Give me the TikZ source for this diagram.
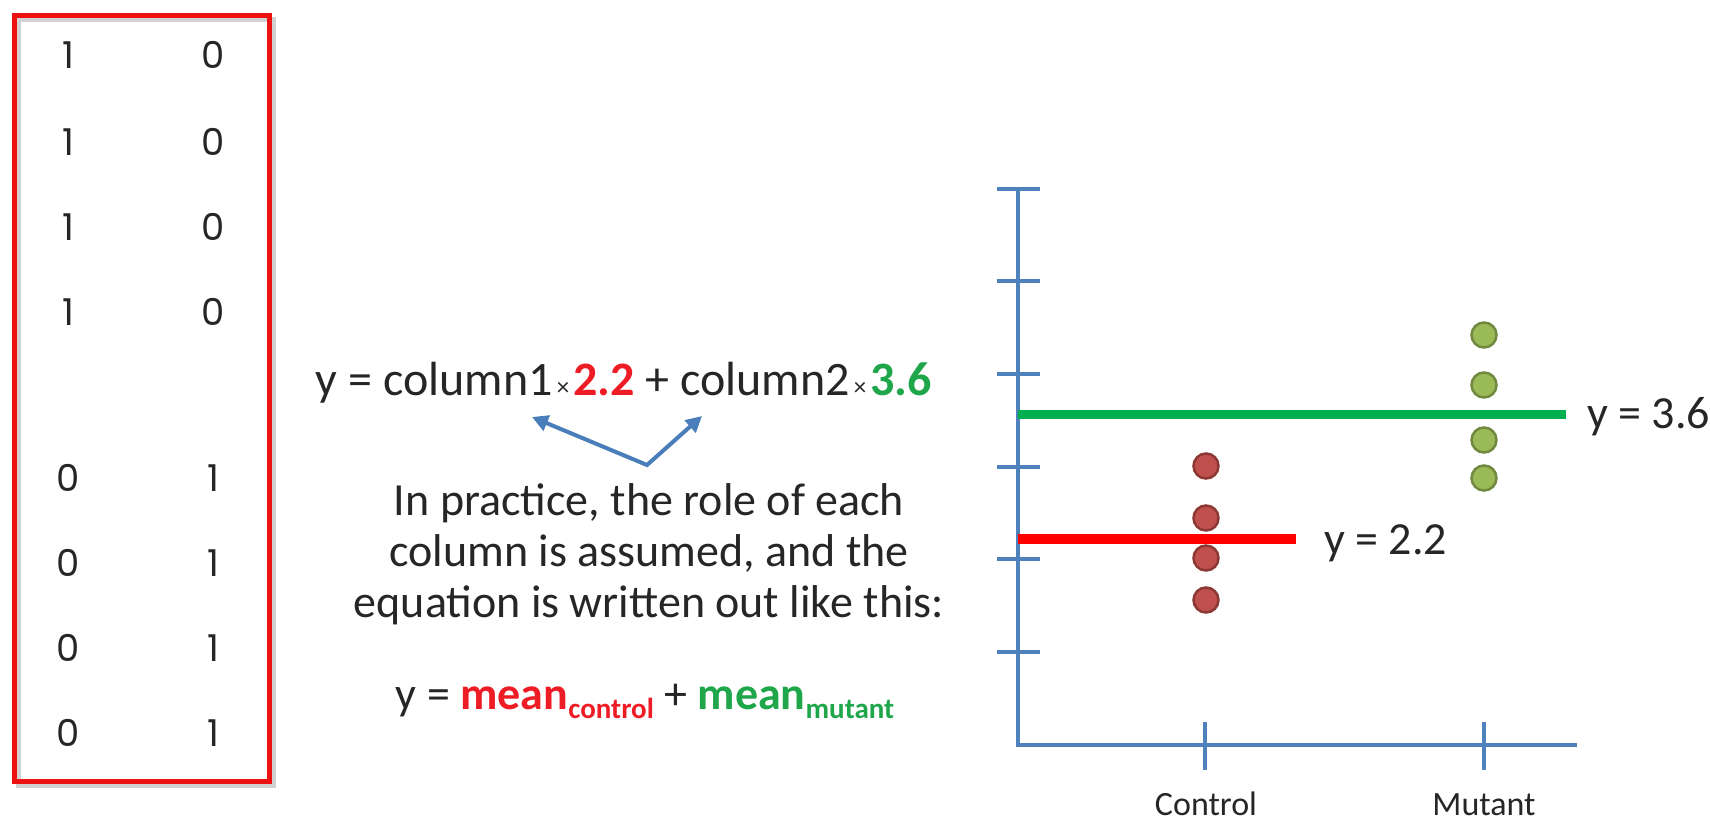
\documentclass[tikz,border=0pt]{standalone}
\usepackage{fontspec}
\setmainfont{Carlito}
\newfontfamily\digitfont{Poppins}
\usetikzlibrary{arrows.meta}

\definecolor{axisblue}{HTML}{4F81BD}
\definecolor{arrowblue}{HTML}{4A7EBB}
\definecolor{boxred}{HTML}{EE1111}
\definecolor{ctrlred}{HTML}{FF0000}
\definecolor{mutgreen}{HTML}{00B050}
\definecolor{txtred}{HTML}{EE1C25}
\definecolor{txtgreen}{HTML}{1FA64A}
\definecolor{dotred}{HTML}{C0504D}
\definecolor{dotredline}{HTML}{8C3836}
\definecolor{dotgreen}{HTML}{9BBB59}
\definecolor{dotgreenline}{HTML}{71893F}
\definecolor{ink}{HTML}{262626}

\newcommand{\timessign}{{\fontsize{25bp}{25bp}\selectfont\,×\,}}
\newcommand{\subtext}[1]{\raisebox{-9bp}{\fontsize{29bp}{30bp}\selectfont #1}}

\begin{document}
\begin{tikzpicture}[x=1bp,y=-1bp,
  cell/.style={font=\digitfont\fontsize{37bp}{40bp}\selectfont, text=ink, inner sep=0},
  body/.style={font=\fontsize{46bp}{51bp}\selectfont, text=ink, inner sep=0},
  axislabel/.style={font=\fontsize{34bp}{40bp}\selectfont, text=ink, inner sep=0, anchor=base},
  axisline/.style={draw=axisblue, line width=4bp},
  redpt/.style={fill=dotred, draw=dotredline, line width=2.5bp},
  greenpt/.style={fill=dotgreen, draw=dotgreenline, line width=2.5bp},
  pointer/.style={draw=arrowblue, line width=4bp, line join=miter,
    {Triangle[length=16bp,width=16bp]}-{Triangle[length=16bp,width=16bp]}}
]
\useasboundingbox[fill=white] (0,0) rectangle (1710,826);

% design matrix in a red frame
\draw[black!18, line width=5bp] (18,19) rectangle (273,785);
\draw[boxred, line width=5bp] (14,15) rectangle (269,781);
\foreach \r/\a/\b/\yy in {1/1/0/55, 2/1/0/142, 3/1/0/227, 4/1/0/312,
                           5/0/1/478, 6/0/1/563, 7/0/1/648, 8/0/1/733} {
  \node[cell] (c\r a) at (68,\yy) {\a};
  \node[cell] (c\r b) at (213,\yy) {\b};
}

% general equation
\node[body, anchor=base, font=\fontsize{48bp}{51bp}\selectfont] (eqn) at (624,395)
  {y = column1\timessign{\bfseries\color{txtred}2.2} + column2\timessign{\bfseries\color{txtgreen}3.6}};

% arrows pointing at the two columns
\coordinate (tipA) at (532,417);
\coordinate (vtx)  at (647,465);
\coordinate (tipB) at (702,416);
\draw[pointer] (tipA) -- (vtx) -- (tipB);

% explanation
\node[body, anchor=base] (l1) at (649,515) {In practice, the role of each};
\node[body, anchor=base] (l2) at (649,566) {column is assumed, and the};
\node[body, anchor=base] (l3) at (649,617) {equation is written out like this:};

% simplified equation
\node[body, anchor=base] (means) at (645,709)
  {y = {\bfseries\color{txtred}mean\subtext{control}} + {\bfseries\color{txtgreen}mean\subtext{mutant}}};

% axes
\coordinate (origin) at (1018,745);
\coordinate (ytop) at (1018,189);
\coordinate (xend) at (1577,745);
\draw[axisline] (ytop) -- (origin) -- (xend);
\foreach \yy in {189,281,374,467,559,652}
  \draw[axisline] (997,\yy) -- (1040,\yy);
\draw[axisline] (1205,722) -- (1205,770);
\draw[axisline] (1484,722) -- (1484,770);
\node[axislabel] (lc) at (1206,815) {Control};
\node[axislabel] (lm) at (1484,815) {Mutant};

% data points
\foreach \yy in {335,385,440,478}
  \draw[greenpt] (1484,\yy) circle [radius=12.5];
\foreach \yy in {466,518,558,600}
  \draw[redpt] (1206,\yy) circle [radius=12.5];

% fitted means
\draw[mutgreen, line width=9bp] (1018,414) -- (1566,414);
\node[body, anchor=base west] (m2) at (1587,428) {y = 3.6};
\draw[ctrlred, line width=10bp] (1018,539) -- (1296,539);
\node[body, anchor=base west] (m1) at (1324,554) {y = 2.2};
\end{tikzpicture}
\end{document}
